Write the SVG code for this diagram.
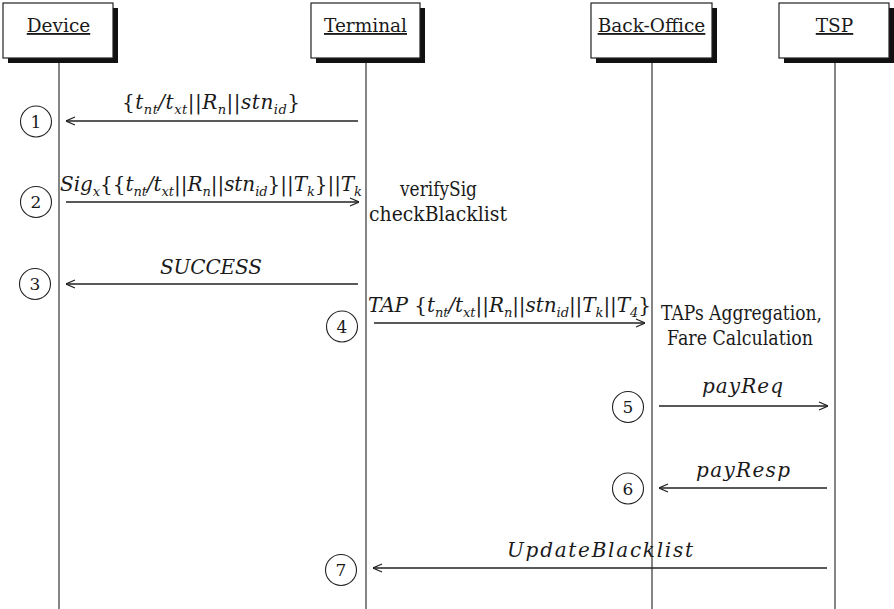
<svg xmlns="http://www.w3.org/2000/svg" width="894" height="609" viewBox="0 0 894 609">
<style>
  .box { fill: #fff; stroke: #222; stroke-width: 1.2; }
  .shadow { fill: #111; stroke: none; }
  .life { stroke: #444; stroke-width: 1.3; fill: none; }
  .msg { stroke: #222; stroke-width: 1.3; fill: none; marker-end: url(#ah); }
  .lbl { font-family: "DejaVu Serif", "Liberation Serif", serif; font-size: 18.5px; fill: #1a1a1a; text-anchor: middle; text-decoration: underline; }
  .txt { font-family: "DejaVu Serif", "Liberation Serif", serif; font-size: 19.5px; fill: #1a1a1a; }
  .m { font-family: "DejaVu Serif", "Liberation Serif", serif; font-size: 20px; font-style: italic; fill: #1a1a1a; }
  .u { font-style: normal; }
  .sb { font-size: 13px; }
  .num circle { fill: #fff; stroke: #222; stroke-width: 1.1; }
  .num text { font-family: "DejaVu Serif", "Liberation Serif", serif; font-size: 17px; fill: #1a1a1a; text-anchor: middle; }
</style>
<defs>
  <marker id="ah" viewBox="0 0 10 10" refX="10" refY="5" markerWidth="10" markerHeight="10" markerUnits="userSpaceOnUse" orient="auto">
    <path d="M1,1 L10,5 L1,9" fill="none" stroke="#222" stroke-width="1.2"/>
  </marker>
</defs>

<g id="device">
  <rect class="shadow" x="8" y="8" width="110" height="55"/>
  <rect class="box" x="3" y="3" width="110" height="55"/>
  <line class="life" x1="59" y1="63" x2="59" y2="609"/>
  <text class="lbl" x="58.5" y="32">Device</text>
</g>
<g id="terminal">
  <rect class="shadow" x="316" y="8" width="109" height="55"/>
  <rect class="box" x="311" y="3" width="109" height="55"/>
  <line class="life" x1="366" y1="63" x2="366" y2="609"/>
  <text class="lbl" x="365.5" y="32">Terminal</text>
</g>
<g id="backoffice">
  <rect class="shadow" x="596" y="8" width="121" height="55"/>
  <rect class="box" x="591" y="3" width="121" height="55"/>
  <line class="life" x1="652" y1="63" x2="652" y2="609"/>
  <text class="lbl" x="651.5" y="32">Back-Office</text>
</g>
<g id="tsp">
  <rect class="shadow" x="784" y="8" width="110" height="55"/>
  <rect class="box" x="779" y="3" width="110" height="55"/>
  <line class="life" x1="835" y1="63" x2="835" y2="609"/>
  <text class="lbl" x="834.5" y="32">TSP</text>
</g>

<g id="connectors">
  <line class="msg" x1="358" y1="121" x2="66" y2="121"/>
  <line class="msg" x1="66" y1="202" x2="359" y2="202"/>
  <line class="msg" x1="358" y1="284" x2="66" y2="284"/>
  <line class="msg" x1="374" y1="323" x2="645" y2="323"/>
  <line class="msg" x1="659" y1="406" x2="828" y2="406"/>
  <line class="msg" x1="827" y1="488" x2="659" y2="488"/>
  <line class="msg" x1="827" y1="568" x2="373" y2="568"/>
</g>

<g id="labels">
  <text class="m" x="122" y="109" textLength="178" lengthAdjust="spacing"><tspan class="u">{</tspan>t<tspan class="sb" dy="4.5">nt</tspan><tspan dy="-4.5">/t</tspan><tspan class="sb" dy="4.5">xt</tspan><tspan class="u" dy="-4.5">||</tspan>R<tspan class="sb" dy="4.5">n</tspan><tspan class="u" dy="-4.5">||</tspan>stn<tspan class="sb" dy="4.5">id</tspan><tspan class="u" dy="-4.5">}</tspan></text>
  <text class="m" x="60" y="191" textLength="302" lengthAdjust="spacing">Sig<tspan class="sb" dy="4.5">x</tspan><tspan class="u" dy="-4.5">{{</tspan>t<tspan class="sb" dy="4.5">nt</tspan><tspan dy="-4.5">/t</tspan><tspan class="sb" dy="4.5">xt</tspan><tspan class="u" dy="-4.5">||</tspan>R<tspan class="sb" dy="4.5">n</tspan><tspan class="u" dy="-4.5">||</tspan>stn<tspan class="sb" dy="4.5">id</tspan><tspan class="u" dy="-4.5">}||</tspan>T<tspan class="sb" dy="4.5">k</tspan><tspan class="u" dy="-4.5">}||</tspan>T<tspan class="sb" dy="4.5">k</tspan></text>
  <text class="m" x="160" y="274" textLength="102" lengthAdjust="spacing">SUCCESS</text>
  <text class="m" x="368" y="312" textLength="283" lengthAdjust="spacing">TAP<tspan class="u"> {</tspan>t<tspan class="sb" dy="4.5">nt</tspan><tspan dy="-4.5">/t</tspan><tspan class="sb" dy="4.5">xt</tspan><tspan class="u" dy="-4.5">||</tspan>R<tspan class="sb" dy="4.5">n</tspan><tspan class="u" dy="-4.5">||</tspan>stn<tspan class="sb" dy="4.5">id</tspan><tspan class="u" dy="-4.5">||</tspan>T<tspan class="sb" dy="4.5">k</tspan><tspan class="u" dy="-4.5">||</tspan>T<tspan class="sb" dy="4.5">4</tspan><tspan class="u" dy="-4.5">}</tspan></text>
  <text class="m" x="702" y="393" textLength="81" lengthAdjust="spacing">payReq</text>
  <text class="m" x="696" y="477" textLength="94" lengthAdjust="spacing">payResp</text>
  <text class="m" x="507" y="557" textLength="186" lengthAdjust="spacing">UpdateBlacklist</text>
  <text class="txt" x="400" y="196" textLength="77" lengthAdjust="spacingAndGlyphs">verifySig</text>
  <text class="txt" x="369" y="221" textLength="138" lengthAdjust="spacingAndGlyphs">checkBlacklist</text>
  <text class="txt" x="661" y="320" textLength="161" lengthAdjust="spacingAndGlyphs">TAPs Aggregation,</text>
  <text class="txt" x="667" y="345" textLength="146" lengthAdjust="spacingAndGlyphs">Fare Calculation</text>
</g>

<g id="step1" class="num"><circle cx="36" cy="121.5" r="15.5"/><text x="36" y="127.5">1</text></g>
<g id="step2" class="num"><circle cx="36" cy="202" r="15.5"/><text x="36" y="208">2</text></g>
<g id="step3" class="num"><circle cx="35" cy="284" r="15.5"/><text x="35" y="290">3</text></g>
<g id="step4" class="num"><circle cx="342" cy="326.5" r="15.5"/><text x="342" y="332.5">4</text></g>
<g id="step5" class="num"><circle cx="628" cy="407" r="15.5"/><text x="628" y="413">5</text></g>
<g id="step6" class="num"><circle cx="628" cy="488.5" r="15.5"/><text x="628" y="494.5">6</text></g>
<g id="step7" class="num"><circle cx="341" cy="570" r="15.5"/><text x="341" y="576">7</text></g>
</svg>
